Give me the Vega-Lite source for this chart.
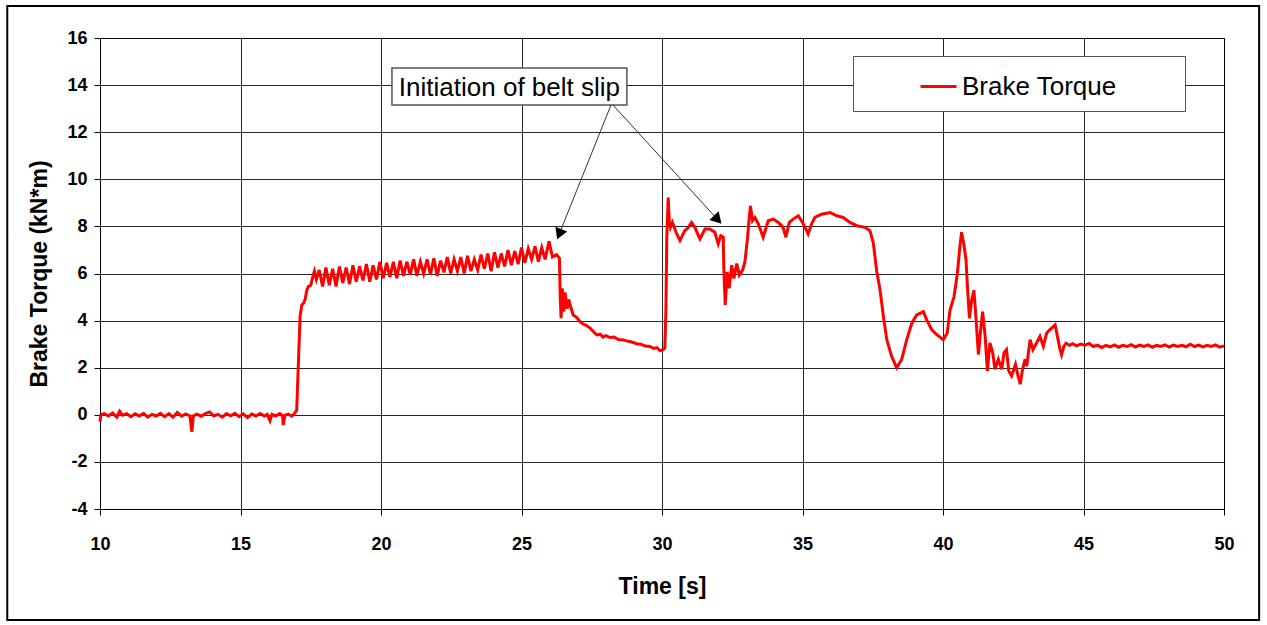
{
  "$schema": "https://vega.github.io/schema/vega-lite/v6.json",
  "width": 1124,
  "height": 471,
  "autosize": {"type": "none"},
  "padding": {"left": 100, "top": 38, "right": 43, "bottom": 116},
  "background": "white",
  "config": {
    "view": {"stroke": "#000", "strokeWidth": 1},
    "font": "Liberation Sans",
    "axis": {
      "gridColor": "#000", "gridOpacity": 0.85, "gridWidth": 1,
      "domainColor": "#000", "tickColor": "#000", "tickSize": 6,
      "labelFont": "Liberation Sans", "labelFontWeight": "bold", "labelFontSize": 18, "labelColor": "#000",
      "titleFont": "Liberation Sans", "titleFontWeight": "bold", "titleFontSize": 23, "titleColor": "#000"
    }
  },
  "datasets": {
    "torque": [
      {"t":10.0,"v":-0.3},{"t":10.03,"v":0.0},{"t":10.15,"v":0.05},{"t":10.3,"v":-0.05},{"t":10.45,"v":0.08},{"t":10.6,"v":-0.1},{"t":10.7,"v":0.15},{"t":10.8,"v":-0.02},{"t":10.95,"v":0.05},{"t":11.1,"v":-0.08},{"t":11.25,"v":0.04},{"t":11.4,"v":-0.05},{"t":11.55,"v":0.06},{"t":11.7,"v":-0.1},{"t":11.85,"v":0.02},{"t":12.0,"v":-0.05},{"t":12.15,"v":0.06},{"t":12.3,"v":-0.08},{"t":12.45,"v":0.05},{"t":12.6,"v":-0.1},{"t":12.75,"v":0.1},{"t":12.9,"v":-0.06},{"t":13.05,"v":0.04},{"t":13.2,"v":-0.05},{"t":13.27,"v":-0.72},{"t":13.32,"v":-0.05},{"t":13.45,"v":0.03},{"t":13.6,"v":-0.06},{"t":13.75,"v":0.05},{"t":13.9,"v":0.12},{"t":14.05,"v":-0.05},{"t":14.2,"v":0.02},{"t":14.35,"v":-0.1},{"t":14.5,"v":0.05},{"t":14.65,"v":-0.04},{"t":14.8,"v":0.06},{"t":14.95,"v":-0.08},{"t":15.1,"v":0.04},{"t":15.25,"v":-0.12},{"t":15.4,"v":0.03},{"t":15.55,"v":-0.05},{"t":15.7,"v":0.06},{"t":15.85,"v":-0.05},{"t":15.95,"v":0.02},{"t":16.05,"v":-0.25},{"t":16.12,"v":0.02},{"t":16.25,"v":-0.05},{"t":16.4,"v":0.05},{"t":16.5,"v":-0.05},{"t":16.52,"v":-0.43},{"t":16.58,"v":-0.02},{"t":16.7,"v":0.03},{"t":16.82,"v":-0.06},{"t":16.92,"v":0.05},{"t":17.0,"v":0.2},
      {"t":17.06,"v":2.2},{"t":17.12,"v":4.17},{"t":17.18,"v":4.66},{"t":17.25,"v":4.75},{"t":17.3,"v":4.9},{"t":17.36,"v":5.3},{"t":17.42,"v":5.45},{"t":17.5,"v":5.5},{"t":17.56,"v":5.8},{"t":17.63,"v":6.1},{"t":17.7,"v":5.75},
      {"t":17.8,"v":6.15},{"t":17.92,"v":5.45},{"t":18.04,"v":6.25},{"t":18.16,"v":5.5},{"t":18.28,"v":6.2},{"t":18.4,"v":5.45},{"t":18.52,"v":6.3},{"t":18.64,"v":5.6},{"t":18.76,"v":6.25},{"t":18.88,"v":5.55},{"t":19.0,"v":6.35},{"t":19.12,"v":5.65},{"t":19.24,"v":6.3},{"t":19.36,"v":5.7},{"t":19.48,"v":6.4},{"t":19.6,"v":5.65},{"t":19.72,"v":6.35},{"t":19.84,"v":5.75},{"t":19.96,"v":6.5},{"t":20.08,"v":5.8},{"t":20.2,"v":6.45},{"t":20.32,"v":5.85},{"t":20.44,"v":6.5},{"t":20.56,"v":5.8},{"t":20.68,"v":6.55},{"t":20.8,"v":5.9},{"t":20.92,"v":6.5},{"t":21.04,"v":5.95},{"t":21.16,"v":6.6},{"t":21.28,"v":5.9},{"t":21.4,"v":6.5},{"t":21.52,"v":6.0},{"t":21.64,"v":6.6},{"t":21.76,"v":5.95},{"t":21.88,"v":6.65},{"t":22.0,"v":5.9},{"t":22.12,"v":6.55},{"t":22.24,"v":6.05},{"t":22.36,"v":6.7},{"t":22.48,"v":6.0},{"t":22.6,"v":6.6},{"t":22.72,"v":6.1},{"t":22.84,"v":6.7},{"t":22.96,"v":6.0},{"t":23.08,"v":6.75},{"t":23.2,"v":6.1},{"t":23.32,"v":6.6},{"t":23.44,"v":6.15},{"t":23.56,"v":6.8},{"t":23.68,"v":6.2},{"t":23.8,"v":6.85},{"t":23.92,"v":6.1},{"t":24.04,"v":6.9},{"t":24.16,"v":6.25},{"t":24.28,"v":6.85},{"t":24.4,"v":6.3},{"t":24.52,"v":7.0},{"t":24.64,"v":6.35},{"t":24.76,"v":6.95},{"t":24.88,"v":6.4},{"t":25.0,"v":7.1},{"t":25.12,"v":6.45},{"t":25.24,"v":7.05},{"t":25.36,"v":6.6},{"t":25.48,"v":7.15},{"t":25.6,"v":6.5},{"t":25.72,"v":7.1},{"t":25.84,"v":6.6},{"t":25.98,"v":7.37},{"t":26.1,"v":6.7},{"t":26.25,"v":6.8},{"t":26.35,"v":6.65},
      {"t":26.38,"v":4.9},{"t":26.41,"v":4.1},{"t":26.45,"v":5.37},{"t":26.5,"v":4.38},{"t":26.55,"v":5.2},{"t":26.62,"v":4.5},{"t":26.68,"v":4.9},{"t":26.73,"v":4.66},{"t":26.84,"v":4.24},{"t":26.95,"v":4.15},{"t":27.08,"v":3.96},{"t":27.2,"v":3.85},{"t":27.3,"v":3.8},{"t":27.44,"v":3.68},{"t":27.55,"v":3.55},{"t":27.68,"v":3.39},{"t":27.8,"v":3.42},{"t":27.9,"v":3.3},{"t":28.0,"v":3.36},{"t":28.15,"v":3.28},{"t":28.3,"v":3.3},{"t":28.45,"v":3.2},{"t":28.62,"v":3.18},{"t":28.8,"v":3.12},{"t":28.95,"v":3.08},{"t":29.1,"v":3.02},{"t":29.25,"v":3.0},{"t":29.4,"v":2.92},{"t":29.57,"v":2.9},{"t":29.7,"v":2.82},{"t":29.82,"v":2.85},{"t":29.93,"v":2.72},{"t":30.05,"v":2.78},{"t":30.1,"v":2.83},
      {"t":30.14,"v":4.5},{"t":30.17,"v":7.5},{"t":30.22,"v":9.22},{"t":30.26,"v":8.2},{"t":30.3,"v":7.96},{"t":30.37,"v":8.17},{"t":30.44,"v":7.96},{"t":30.5,"v":7.75},{"t":30.64,"v":7.4},{"t":30.8,"v":7.8},{"t":30.94,"v":7.96},{"t":31.05,"v":8.17},{"t":31.17,"v":7.96},{"t":31.35,"v":7.47},{"t":31.53,"v":7.89},{"t":31.7,"v":7.89},{"t":31.88,"v":7.75},{"t":32.0,"v":7.26},{"t":32.09,"v":7.6},{"t":32.18,"v":7.54},{"t":32.2,"v":6.2},{"t":32.25,"v":4.67},{"t":32.32,"v":6.07},{"t":32.39,"v":5.37},{"t":32.48,"v":6.35},{"t":32.56,"v":5.79},{"t":32.66,"v":6.42},{"t":32.75,"v":5.93},{"t":32.87,"v":6.14},{"t":32.95,"v":6.49},{"t":33.04,"v":7.47},{"t":33.1,"v":8.31},{"t":33.15,"v":8.87},{"t":33.22,"v":8.24},{"t":33.31,"v":8.38},{"t":33.43,"v":8.1},{"t":33.6,"v":7.54},{"t":33.78,"v":8.24},{"t":33.96,"v":8.31},{"t":34.14,"v":8.17},{"t":34.31,"v":7.96},{"t":34.41,"v":7.54},{"t":34.53,"v":8.17},{"t":34.67,"v":8.31},{"t":34.85,"v":8.45},{"t":35.0,"v":8.17},{"t":35.12,"v":7.89},{"t":35.2,"v":7.68},{"t":35.32,"v":8.1},{"t":35.44,"v":8.38},{"t":35.68,"v":8.52},{"t":35.98,"v":8.59},{"t":36.22,"v":8.45},{"t":36.45,"v":8.38},{"t":36.69,"v":8.17},{"t":36.93,"v":8.03},{"t":37.22,"v":7.96},{"t":37.4,"v":7.82},
      {"t":37.52,"v":7.3},{"t":37.64,"v":6.1},{"t":37.76,"v":5.3},{"t":37.88,"v":4.17},{"t":38.0,"v":3.19},{"t":38.17,"v":2.49},{"t":38.35,"v":2.0},{"t":38.53,"v":2.35},{"t":38.71,"v":3.19},{"t":38.89,"v":3.89},{"t":39.06,"v":4.24},{"t":39.18,"v":4.31},{"t":39.3,"v":4.38},{"t":39.42,"v":4.03},{"t":39.6,"v":3.61},{"t":39.78,"v":3.4},{"t":40.01,"v":3.19},{"t":40.15,"v":3.47},{"t":40.25,"v":4.45},{"t":40.39,"v":5.01},{"t":40.51,"v":5.99},{"t":40.6,"v":7.12},{"t":40.66,"v":7.75},{"t":40.74,"v":7.26},{"t":40.82,"v":6.56},{"t":40.87,"v":5.43},{"t":40.94,"v":4.1},{"t":41.02,"v":4.87},{"t":41.1,"v":5.29},{"t":41.17,"v":4.17},{"t":41.26,"v":2.56},{"t":41.34,"v":3.61},{"t":41.41,"v":4.38},{"t":41.5,"v":3.33},{"t":41.58,"v":1.86},{"t":41.67,"v":3.05},{"t":41.77,"v":2.63},{"t":41.85,"v":1.93},{"t":41.97,"v":2.35},{"t":42.09,"v":1.93},{"t":42.17,"v":2.63},{"t":42.26,"v":2.77},{"t":42.34,"v":1.86},{"t":42.44,"v":1.65},{"t":42.58,"v":2.14},{"t":42.67,"v":1.65},{"t":42.75,"v":1.3},{"t":42.83,"v":1.93},{"t":42.92,"v":2.35},{"t":42.98,"v":2.07},{"t":43.1,"v":3.19},{"t":43.2,"v":2.77},{"t":43.33,"v":3.05},{"t":43.45,"v":3.33},{"t":43.57,"v":2.91},{"t":43.69,"v":3.47},{"t":43.8,"v":3.61},{"t":43.99,"v":3.82},{"t":44.05,"v":3.47},{"t":44.16,"v":2.8},{"t":44.22,"v":2.55},{"t":44.3,"v":2.9},{"t":44.38,"v":3.04},
      {"t":44.5,"v":2.95},{"t":44.62,"v":3.02},{"t":44.75,"v":2.93},{"t":44.9,"v":3.0},{"t":45.05,"v":2.96},{"t":45.2,"v":3.03},{"t":45.35,"v":2.9},{"t":45.5,"v":2.96},{"t":45.65,"v":2.86},{"t":45.8,"v":2.95},{"t":45.95,"v":2.88},{"t":46.1,"v":2.97},{"t":46.25,"v":2.87},{"t":46.4,"v":2.95},{"t":46.55,"v":2.9},{"t":46.7,"v":2.98},{"t":46.85,"v":2.88},{"t":47.0,"v":2.96},{"t":47.15,"v":2.9},{"t":47.3,"v":2.97},{"t":47.45,"v":2.87},{"t":47.6,"v":2.95},{"t":47.75,"v":2.9},{"t":47.9,"v":2.97},{"t":48.05,"v":2.88},{"t":48.2,"v":2.96},{"t":48.35,"v":2.9},{"t":48.5,"v":2.95},{"t":48.65,"v":2.89},{"t":48.8,"v":3.0},{"t":48.95,"v":2.9},{"t":49.1,"v":2.96},{"t":49.25,"v":2.88},{"t":49.4,"v":2.95},{"t":49.55,"v":2.9},{"t":49.7,"v":2.97},{"t":49.85,"v":2.87},{"t":50.0,"v":2.93}
    ],
    "frame": [{"x1": 6.7, "x2": 51.25, "y1": 17.36, "y2": -8.71}],
    "box": [{"x1": 20.39, "x2": 28.75, "y1": 14.73, "y2": 13.155, "xc": 24.57, "yc": 13.88, "label": "Initiation of belt slip"}],
    "arrows": [
      {"x1": 28.185, "y1": 13.155, "x2": 26.3, "y2": 7.55, "hx": 26.367, "hy": 7.745, "ang": 202},
      {"x1": 28.256, "y1": 13.155, "x2": 32.06, "y2": 8.187, "hx": 31.94, "hy": 8.344, "ang": 137}
    ]
  },
  "layer": [
    {
      "data": {"name": "frame"},
      "mark": {"type": "rect", "fill": null, "stroke": "#000", "strokeWidth": 2, "clip": false},
      "encoding": {
        "x": {"field": "x1", "type": "quantitative", "scale": {"domain": [10, 50], "nice": false, "zero": false}},
        "x2": {"field": "x2"},
        "y": {"field": "y1", "type": "quantitative", "scale": {"domain": [-4, 16], "nice": false, "zero": false}},
        "y2": {"field": "y2"}
      }
    },
    {
      "data": {"name": "torque"},
      "mark": {"type": "line", "strokeWidth": 3, "interpolate": "linear"},
      "encoding": {
        "x": {"field": "t", "type": "quantitative", "title": "Time [s]",
              "scale": {"domain": [10, 50], "nice": false, "zero": false},
              "axis": {"values": [10, 15, 20, 25, 30, 35, 40, 45, 50], "labelPadding": 20, "titlePadding": 22, "labelFlush": false, "labelExpr": "'' + datum.value"}},
        "y": {"field": "v", "type": "quantitative", "title": "Brake Torque (kN*m)",
              "scale": {"domain": [-4, 16], "nice": false, "zero": false},
              "axis": {"values": [-4, -2, 0, 2, 4, 6, 8, 10, 12, 14, 16], "labelPadding": 7, "titlePadding": 15, "labelExpr": "'' + datum.value"}},
        "color": {"datum": "Brake Torque", "type": "nominal",
                  "scale": {"range": ["#ff0000"]},
                  "legend": {"title": null, "orient": "none", "legendX": 753, "legendY": 18,
                             "strokeColor": "#555", "fillColor": "#fff", "padding": 11,
                             "symbolType": "stroke", "symbolSize": 1296, "symbolStrokeWidth": 3, "symbolOffset": 55,
                             "labelFontSize": 26, "labelFont": "Liberation Sans", "labelColor": "#000", "labelOffset": 4, "labelLimit": 400,
                             "labelExpr": "datum.label + '\u2800\u2800\u2800'"}}
      }
    },
    {
      "data": {"name": "box"},
      "mark": {"type": "rect", "fill": "#fff", "stroke": "#555", "strokeWidth": 1.5},
      "encoding": {
        "x": {"field": "x1", "type": "quantitative"}, "x2": {"field": "x2"},
        "y": {"field": "y1", "type": "quantitative"}, "y2": {"field": "y2"}
      }
    },
    {
      "data": {"name": "box"},
      "mark": {"type": "text", "fontSize": 26, "font": "Liberation Sans", "color": "#000", "align": "center", "baseline": "middle"},
      "encoding": {
        "x": {"field": "xc", "type": "quantitative"},
        "y": {"field": "yc", "type": "quantitative"},
        "text": {"field": "label"}
      }
    },
    {
      "data": {"name": "arrows"},
      "mark": {"type": "rule", "color": "#333", "strokeWidth": 1},
      "encoding": {
        "x": {"field": "x1", "type": "quantitative"}, "x2": {"field": "x2"},
        "y": {"field": "y1", "type": "quantitative"}, "y2": {"field": "y2"}
      }
    },
    {
      "data": {"name": "arrows"},
      "mark": {"type": "point", "shape": "triangle", "filled": true, "color": "#000", "size": 160, "opacity": 1},
      "encoding": {
        "x": {"field": "hx", "type": "quantitative"},
        "y": {"field": "hy", "type": "quantitative"},
        "angle": {"field": "ang", "type": "quantitative", "scale": null}
      }
    }
  ]
}
